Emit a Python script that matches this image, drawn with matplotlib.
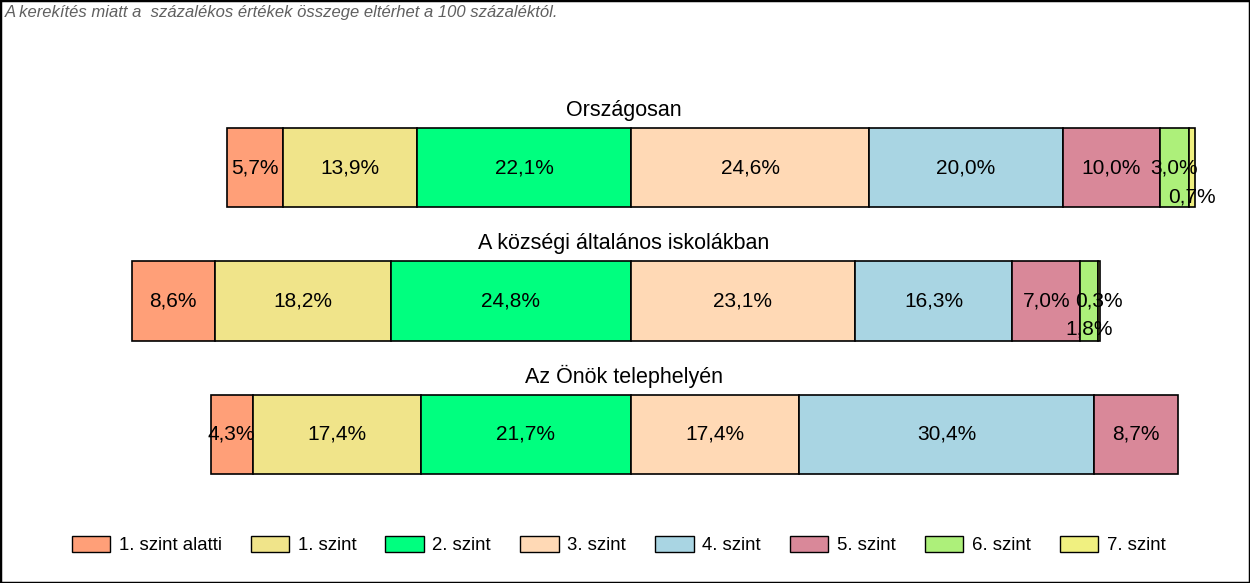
import matplotlib
matplotlib.use("Agg")
import matplotlib.pyplot as plt
from matplotlib.patches import Rectangle, Patch
import matplotlib.transforms as mtransforms

plt.rcParams['font.family'] = ['Liberation Sans', 'DejaVu Sans']

groups = ["Országosan", "A községi általános iskolákban", "Az Önök telephelyén"]
levels = ["1. szint alatti", "1. szint", "2. szint", "3. szint",
          "4. szint", "5. szint", "6. szint", "7. szint"]
colors = ["#FF9F78", "#F0E48A", "#00FF7F", "#FFD9B5",
          "#A9D5E3", "#D98899", "#ADF07A", "#F0F080"]

orszagos = [5.7, 13.9, 22.1, 24.6, 20.0, 10.0, 3.0, 0.7]
kozsegi = [8.6, 18.2, 24.8, 23.1, 16.3, 7.0, 1.8, 0.3]
onok = [4.3, 17.4, 21.7, 17.4, 30.4, 8.7, 0.0, 0.0]
values = [orszagos, kozsegi, onok]

# label vertical shift (in row units) for crowded small segments
label_shift = [
    [0, 0, 0, 0, 0, 0, 0, 0.22],
    [0, 0, 0, 0, 0, 0, 0.21, 0],
    [0, 0, 0, 0, 0, 0, 0, 0],
]

W, H = 1250, 583
fig = plt.figure(figsize=(W / 100, H / 100), dpi=100)
ax = fig.add_axes([0, 0, 1, 1])
px_per_pct = 9.68
zero_px = 631
ax.set_xlim(-zero_px / px_per_pct, (W - zero_px) / px_per_pct)
row_px = 133
first_px = 168
ax.set_ylim((H - first_px) / row_px, -first_px / row_px)
ax.axis("off")

bar_h = 79 / row_px
for i, vals in enumerate(values):
    left = -sum(vals[:3])
    for j, v in enumerate(vals):
        if v <= 0:
            continue
        ax.barh(i, v, left=left, height=bar_h, color=colors[j],
                edgecolor="black", linewidth=1.2)
        lbl = f"{v:.1f}%".replace(".", ",")
        ax.text(left + v / 2, i + label_shift[i][j], lbl, ha="center",
                va="center", fontsize=15, color="black")
        left += v
    trans = mtransforms.blended_transform_factory(fig.transFigure, ax.transData)
    ax.text(624 / W, i - 0.435, groups[i], transform=trans, ha="center",
            va="center", fontsize=15.5, color="black")

fig.text(5 / W, 1 - 13 / H,
         "A kerekítés miatt a  százalékos értékek összege eltérhet a 100 százaléktól.",
         ha="left", va="center", fontsize=12, style="italic", color="#606060")

handles = [Patch(facecolor=c, edgecolor="black", linewidth=1.0) for c in colors]
fig.legend(handles, levels, loc="center", bbox_to_anchor=(618.5 / W, 1 - 545 / H),
           ncol=8, frameon=False, fontsize=13.4, handlelength=2.07,
           handleheight=1.0, handletextpad=0.46, columnspacing=1.56)

fig.patches.append(Rectangle((0, 0), 1, 1, transform=fig.transFigure,
                             fill=False, edgecolor="black", linewidth=2.5))

fig.savefig("out.png", dpi=100)
